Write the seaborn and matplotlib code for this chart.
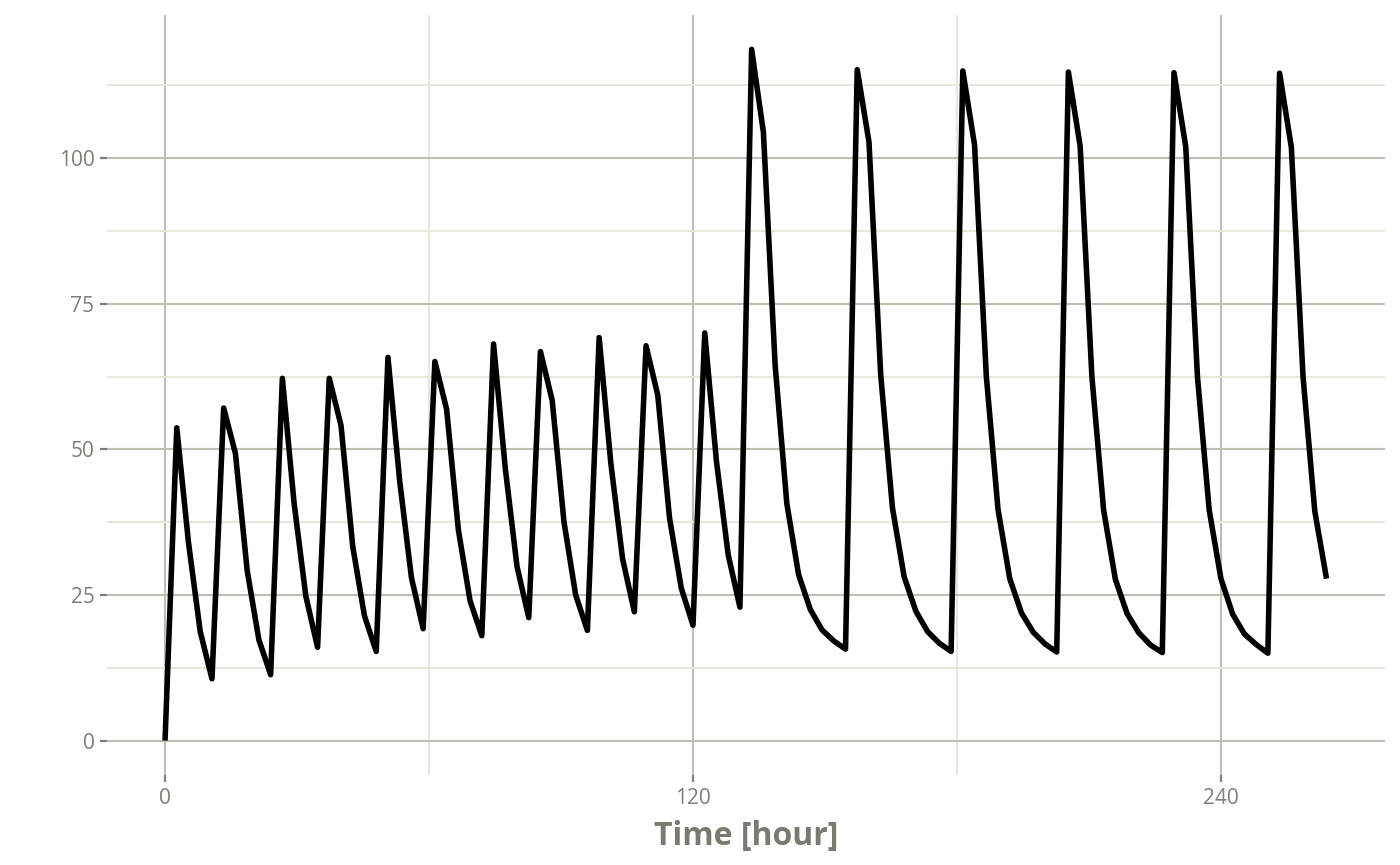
import matplotlib
matplotlib.use("Agg")
import matplotlib.pyplot as plt
import seaborn as sns
import pandas as pd
from matplotlib.ticker import FixedLocator

# simulated concentration, sampled every 8/3 hour
time_h = [0.00, 2.67, 5.33, 8.00, 10.67, 13.33, 16.00, 18.67, 21.33, 24.00,
          26.67, 29.33, 32.00, 34.67, 37.33, 40.00, 42.67, 45.33, 48.00, 50.67,
          53.33, 56.00, 58.67, 61.33, 64.00, 66.67, 69.33, 72.00, 74.67, 77.33,
          80.00, 82.67, 85.33, 88.00, 90.67, 93.33, 96.00, 98.67, 101.33, 104.00,
          106.67, 109.33, 112.00, 114.67, 117.33, 120.00, 122.67, 125.33, 128.00, 130.67,
          133.33, 136.00, 138.67, 141.33, 144.00, 146.67, 149.33, 152.00, 154.67, 157.33,
          160.00, 162.67, 165.33, 168.00, 170.67, 173.33, 176.00, 178.67, 181.33, 184.00,
          186.67, 189.33, 192.00, 194.67, 197.33, 200.00, 202.67, 205.33, 208.00, 210.67,
          213.33, 216.00, 218.67, 221.33, 224.00, 226.67, 229.33, 232.00, 234.67, 237.33,
          240.00, 242.67, 245.33, 248.00, 250.67, 253.33, 256.00, 258.67, 261.33, 264.00]

conc = [0.0, 53.7, 34.0, 18.7, 10.6, 57.1, 49.3, 29.2, 17.3, 11.3,
        62.2, 40.8, 24.8, 16.0, 62.2, 54.1, 33.3, 21.4, 15.3, 65.8,
        44.6, 28.0, 19.2, 65.1, 56.9, 36.2, 24.0, 18.0, 68.1, 46.8,
        29.9, 21.1, 66.8, 58.4, 37.6, 25.0, 18.9, 69.2, 47.6, 31.2,
        22.1, 67.8, 59.3, 38.2, 26.2, 19.8, 70.0, 48.0, 31.9, 22.9,
        118.7, 104.5, 64.5, 40.7, 28.5, 22.5, 19.0, 17.1, 15.7, 115.2,
        102.8, 62.8, 40.0, 28.1, 22.2, 18.7, 16.7, 15.3, 115.0, 102.3,
        62.6, 39.7, 27.8, 21.9, 18.6, 16.6, 15.2, 114.8, 102.1, 62.5,
        39.6, 27.7, 21.8, 18.5, 16.4, 15.1, 114.7, 102.0, 62.4, 39.6,
        27.8, 21.7, 18.3, 16.5, 15.0, 114.6, 101.9, 62.4, 39.4, 27.8]

x_major = [0, 120, 240]
x_minor = [60, 180]
y_major = [0, 25, 50, 75, 100]
y_minor = [12.5, 37.5, 62.5, 87.5, 112.5]

sns.set_style("white")
plt.rcParams["font.family"] = ["Open Sans", "DejaVu Sans"]

df = pd.DataFrame({"time": time_h, "conc": conc})

fig = plt.figure(figsize=(14, 8.65), dpi=100)
ax = fig.add_axes([0.0764, 0.104, 0.9126, 0.879])

sns.lineplot(data=df, x="time", y="conc", color="black", linewidth=4.0,
             sort=False, ax=ax, solid_capstyle="butt")

# ggplot style 5% expansion
ax.set_xlim(-13.2, 277.2)
ax.set_ylim(-5.93, 124.65)

ax.xaxis.set_major_locator(FixedLocator(x_major))
ax.xaxis.set_minor_locator(FixedLocator(x_minor))
ax.yaxis.set_major_locator(FixedLocator(y_major))
ax.yaxis.set_minor_locator(FixedLocator(y_minor))

ax.set_axisbelow(True)
ax.grid(which="major", color="#BEBEB3", linewidth=1.5)
ax.grid(which="minor", color="#E8E8DA", linewidth=1.5)

ax.tick_params(which="major", direction="out", length=5, width=1.6,
               color="#7F7F77", labelcolor="#7F7F77", labelsize=15, pad=4,
               left=True, bottom=True)
ax.tick_params(which="minor", length=0)

sns.despine(ax=ax, left=True, bottom=True)

ax.set_xlabel("Time [hour]", fontsize=23, fontweight="bold", color="#7A7A72", labelpad=8)
ax.set_ylabel("")

fig.savefig("out.png", dpi=100, facecolor="white")
